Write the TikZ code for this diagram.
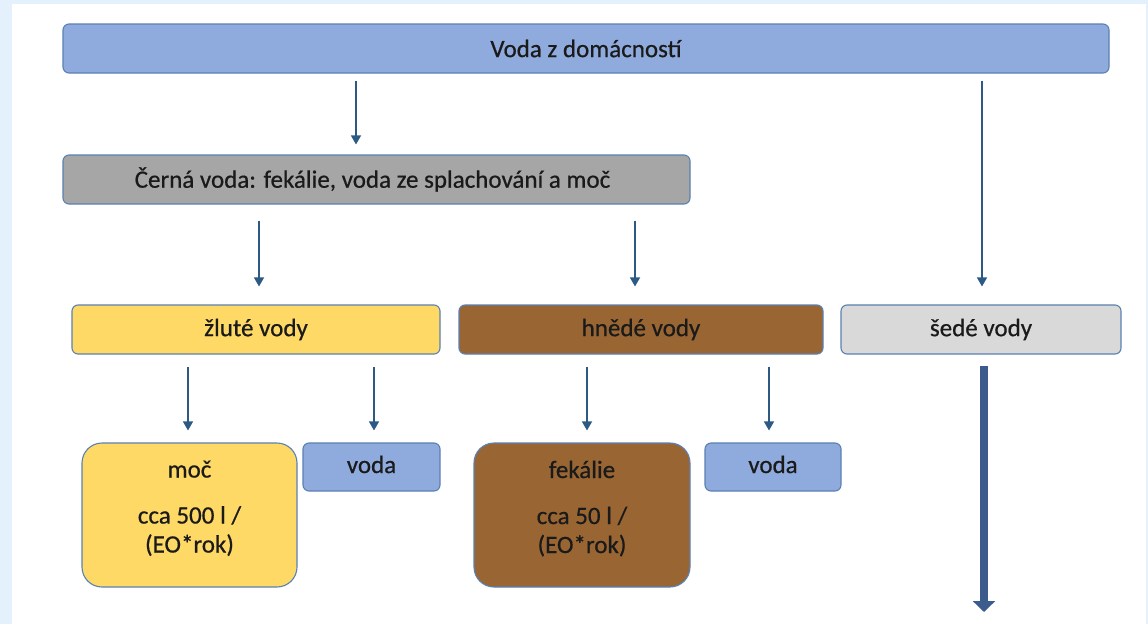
\documentclass[tikz,border=0pt]{standalone}
\usepackage{fontspec}
\setmainfont{Carlito}[FakeBold=0.6]
\usetikzlibrary{arrows.meta,calc}
\definecolor{bgblue}{HTML}{E4F1FC}
\definecolor{boxblue}{HTML}{8FAADC}
\definecolor{boxgray}{HTML}{A6A6A6}
\definecolor{boxyellow}{HTML}{FFD966}
\definecolor{boxbrown}{HTML}{996633}
\definecolor{boxlight}{HTML}{D9D9D9}
\definecolor{edgeblue}{HTML}{5B80B2}
\definecolor{arrblue}{HTML}{2C5A85}
\definecolor{bigblue}{HTML}{3B5C8C}
\definecolor{txt}{HTML}{1A1A1A}
\tikzset{
  box/.style={draw=edgeblue, line width=1.1pt, rounded corners=6pt, inner sep=0pt, text=txt, font=\fontsize{25}{30}\selectfont},
  bigbox/.style={box, rounded corners=20pt},
  lbl/.style={inner sep=0pt, align=center, anchor=north, text=txt, font=\fontsize{25}{29}\selectfont},
  arr/.style={draw=arrblue, line width=1.3pt, -{Triangle[width=10pt,length=9pt]}},
  bigarr/.style={draw=bigblue, line width=8pt, -{Triangle[width=22pt,length=11pt]}}
}
\begin{document}
\begin{tikzpicture}[x=1pt,y=-1pt]
\useasboundingbox (0,0) rectangle (1148,624);
\fill[bgblue] (0,0) rectangle (1148,624);
\fill[white] (12,4) rectangle (1146,624);
% boxes
\node[box, fill=boxblue, minimum width=1046, minimum height=49] (top) at (586,48.5) {Voda z domácností};
\node[box, fill=boxgray, minimum width=627, minimum height=49] (black) at (376.5,179.5) {\hspace*{-8pt}Černá voda: fekálie, voda ze splachování a moč};
\node[box, fill=boxyellow, minimum width=368, minimum height=49] (yellow) at (256,329.5) {žluté vody};
\node[box, fill=boxbrown, minimum width=364, minimum height=49] (brown) at (641,329.5) {hnědé vody};
\node[box, fill=boxlight, minimum width=280, minimum height=49] (grey) at (981,329.5) {šedé vody};
\node[bigbox, fill=boxyellow, minimum width=215, minimum height=144] (moc) at (189.5,515) {};
\node[lbl] (moctext) at ([yshift=-18pt]moc.north) {moč\\[17pt]cca 500 l /\\(EO*rok)};
\node[box, fill=boxblue, minimum width=137, minimum height=48] (voda1) at (371.5,467) {};
\node[lbl] (voda1text) at ([yshift=-13pt]voda1.north) {voda};
\node[bigbox, fill=boxbrown, minimum width=216, minimum height=144] (fek) at (582,515) {};
\node[lbl] (fektext) at ([yshift=-18pt]fek.north) {fekálie\\[17pt]cca 50 l /\\(EO*rok)};
\node[box, fill=boxblue, minimum width=136, minimum height=48] (voda2) at (773,467) {};
\node[lbl] (voda2text) at ([yshift=-13pt]voda2.north) {voda};
\coordinate (bigend) at (984,612);
% arrows
\draw[arr] ([yshift=-7pt]top.south -| 356,0) -- ([yshift=10pt]black.north -| 356,0);
\draw[arr] ([yshift=-7pt]top.south -| 982,0) -- ([yshift=18pt]grey.north -| 982,0);
\draw[arr] ([yshift=-16pt]black.south -| 259,0) -- ([yshift=18pt]yellow.north -| 259,0);
\draw[arr] ([yshift=-16pt]black.south -| 635,0) -- ([yshift=18pt]brown.north -| 635,0);
\draw[arr] ([yshift=-12pt]yellow.south -| 188,0) -- ([yshift=12pt]moc.north -| 188,0);
\draw[arr] ([yshift=-12pt]yellow.south -| 374,0) -- ([yshift=12pt]voda1.north -| 374,0);
\draw[arr] ([yshift=-12pt]brown.south -| 587,0) -- ([yshift=12pt]fek.north -| 587,0);
\draw[arr] ([yshift=-12pt]brown.south -| 769,0) -- ([yshift=12pt]voda2.north -| 769,0);
\draw[bigarr] ([yshift=-11pt]grey.south -| bigend) -- (bigend);
\end{tikzpicture}
\end{document}
